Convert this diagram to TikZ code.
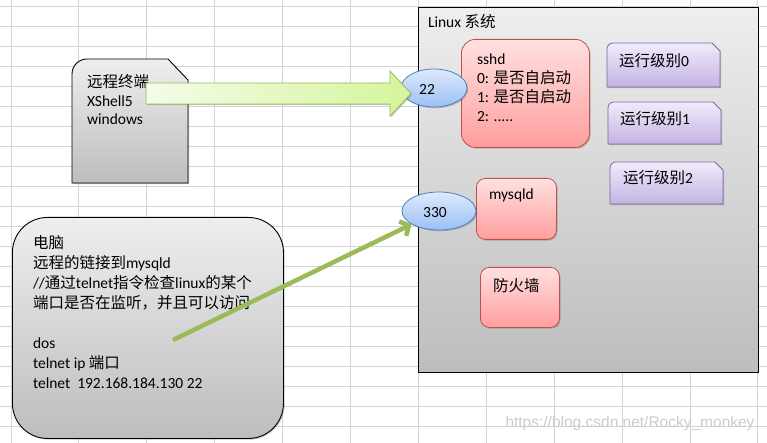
\documentclass[tikz,border=0pt]{standalone}
\usepackage{fontspec}
\setmainfont{Carlito}
\newfontfamily\cjk{Noto Sans CJK SC}
\newfontfamily\wmfont{Liberation Sans}
\usetikzlibrary{shapes.geometric,shadows,arrows.meta}
\newcommand\zh[1]{{\cjk #1}}
\definecolor{gridc}{HTML}{D4D4D4}
\definecolor{redtop}{HTML}{FFE0E0}
\definecolor{redbot}{HTML}{FF9E9E}
\definecolor{redline}{HTML}{C0504D}
\definecolor{bluetop}{HTML}{DEEAFC}
\definecolor{bluebot}{HTML}{9AC0F5}
\definecolor{blueline}{HTML}{4F81BD}
\definecolor{purtop}{HTML}{F1EBFB}
\definecolor{purbot}{HTML}{C4B3E2}
\definecolor{purline}{HTML}{8064A2}
\definecolor{greytop}{HTML}{EEEEEE}
\definecolor{greybot}{HTML}{BDBDBD}
\definecolor{grline}{HTML}{9BBB59}
\definecolor{grleft}{HTML}{F4FCE8}
\definecolor{grright}{HTML}{D5F59C}
\tikzset{
  txt/.style={anchor=base west, inner sep=0pt, outer sep=0pt, font=\fontsize{15.5}{19}\selectfont, align=left},
  shad/.style={drop shadow={opacity=0.3, shadow xshift=1.2pt, shadow yshift=-1.2pt, fill=black!70}},
  greybox/.style={draw=black, line width=0.9pt, top color=greytop, bottom color=greybot},
  redbox/.style={draw=redline, line width=0.8pt, top color=redtop, bottom color=redbot, shad, rectangle, anchor=north west, inner sep=0pt},
  port/.style={ellipse, draw=blueline, line width=0.8pt, top color=bluetop, bottom color=bluebot, inner sep=0pt, shad},
  purbox/.style={draw=purline, line width=0.8pt, top color=purtop, bottom color=purbot, shad},
}
\newcommand\snipbox[4]{%
  \path[purbox] (#1,#2+#4) -- (#1,#2+6) arc[start angle=180,end angle=270,radius=6] -- (#1+#3-8,#2) -- (#1+#3,#2+8) -- (#1+#3,#2+#4) -- cycle;}
\begin{document}
\begin{tikzpicture}[x=1pt,y=-1pt]
\useasboundingbox (0,0) rectangle (767,443);
\fill[white] (0,0) rectangle (767,443);
% spreadsheet grid
\foreach \k in {0,...,11} \draw[gridc, line width=0.9pt] (11+67.9*\k,0) -- (11+67.9*\k,443);
\foreach \k in {0,...,21} \draw[gridc, line width=0.9pt] (0,6+20*\k) -- (767,6+20*\k);

% Linux system box
\node[greybox, line width=1.2pt, rectangle, anchor=north west, minimum width=340pt, minimum height=365pt, inner sep=0pt] (linux) at (418,7) {};
\node[txt] (linuxt) at (428,28) {Linux \zh{系统}};

% remote terminal
\path[greybox, shad] (72,183) -- (72,74) arc[start angle=180,end angle=270,radius=15] -- (168,59) -- (188,80) -- (188,183) -- cycle;
\node[txt, font=\fontsize{15.5}{18.5}\selectfont] (term) at (87,125) {\zh{远程终端}\\XShell5\\windows};

% sshd
\node[redbox, rounded corners=14pt, minimum width=128pt, minimum height=108pt] (sshd) at (461,39) {};
\node[txt, font=\fontsize{15.5}{19.3}\selectfont] (sshdt) at (477,122) {sshd\\0: \zh{是否自启动}\\1: \zh{是否自启动}\\2: .....};

% mysqld
\node[redbox, rounded corners=9pt, minimum width=80pt, minimum height=61pt] (mysqld) at (476,178) {};
\node[txt] (mysqldt) at (489,200) {mysqld};

% firewall
\node[redbox, rounded corners=9pt, minimum width=79pt, minimum height=60pt] (fw) at (480,267) {};
\node[txt] (fwt) at (493,291) {\zh{防火墙}};

% ports
\node[port, minimum width=66pt, minimum height=38pt] (e22) at (434,88) {};
\node[txt, anchor=base] (t22) at (427,95) {22};
\node[port, minimum width=74pt, minimum height=38pt] (e330) at (439,211) {};
\node[txt, anchor=base] (t330) at (435,217.5) {330};

% block arrow terminal -> 22
\path[draw=grline, line width=0.8pt, left color=grleft, right color=grright, shad] (146,83) -- (390,83) -- (390,71) -- (411,93.5) -- (390,116) -- (390,104) -- (146,104) -- cycle;

% run levels
\snipbox{607}{43}{113}{44}
\node[txt] (rl0) at (619,67) {\zh{运行级别}0};
\snipbox{608}{102}{113}{42}
\node[txt] (rl1) at (620,125) {\zh{运行级别}1};
\snipbox{610}{162}{113}{42}
\node[txt] (rl2) at (623,184) {\zh{运行级别}2};

% computer box
\node[greybox, rectangle, rounded corners=35pt, anchor=north west, minimum width=271pt, minimum height=221pt, inner sep=0pt, shad] (pc) at (12,217) {};
\node[txt, font=\fontsize{15.5}{20}\selectfont] (pct) at (33,388) {\zh{电脑}\\\zh{远程的链接到}mysqld\\//\zh{通过}telnet\zh{指令检查}linux\zh{的某个}\\\zh{端口是否在监听，并且可以访问}\\[20pt]dos\\telnet ip \zh{端口}\\telnet\ \ 192.168.184.130 22};

% telnet arrow
\coordinate (tstart) at (173,340);
\draw[grline, line width=4.5pt, -{Straight Barb[length=7pt,width=16pt]}] (tstart) -- (e330);

% watermark
\node[inner sep=0pt, font=\wmfont\fontsize{15.5}{18}\selectfont, text=black!20] (wm) at (630,423) {https://blog.csdn.net/Rocky\_monkey};
\end{tikzpicture}
\end{document}
